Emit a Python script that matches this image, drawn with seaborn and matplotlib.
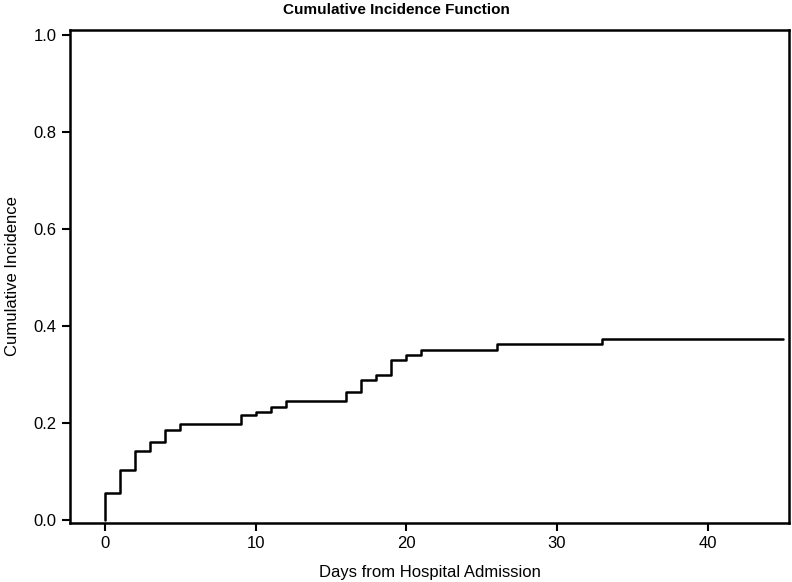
import matplotlib
matplotlib.use('Agg')
import matplotlib.pyplot as plt
import seaborn as sns
import pandas as pd

# event times (days) and cumulative incidence after each step
days = [0, 0, 1, 2, 3, 4, 5, 9, 10, 11, 12, 16, 17, 18, 19, 20, 21, 26, 33, 45]
cif = [0.0, 0.056, 0.104, 0.142, 0.160, 0.186, 0.198, 0.216, 0.223, 0.234,
       0.245, 0.263, 0.289, 0.300, 0.329, 0.340, 0.350, 0.362, 0.374, 0.374]

x_ticks = [0, 10, 20, 30, 40]
y_ticks = [0.0, 0.2, 0.4, 0.6, 0.8, 1.0]

sns.set_style("ticks")
plt.rcParams['font.family'] = ['Liberation Sans', 'DejaVu Sans']
plt.rcParams['text.color'] = 'black'
plt.rcParams['axes.labelcolor'] = 'black'

df = pd.DataFrame({"days": days, "cif": cif})

fig = plt.figure(figsize=(7.92, 5.82), dpi=100)
ax = fig.add_axes([70 / 792, 59 / 582, 719 / 792, 493 / 582])

sns.lineplot(data=df, x="days", y="cif", drawstyle="steps-post",
             color="black", linewidth=1.8, ax=ax, estimator=None)

ax.set_xlim(-2.32, 45.4)
ax.set_ylim(-0.006, 1.01)
ax.set_xticks(x_ticks)
ax.set_yticks(y_ticks)
ax.set_yticklabels(["%.1f" % v for v in y_ticks])
ax.tick_params(direction="out", length=6, width=1.5, labelsize=12, colors="black")
for s in ax.spines.values():
    s.set_linewidth(1.8)
    s.set_color("black")
    s.set_visible(True)

ax.set_xlabel("Days from Hospital Admission", fontsize=12, labelpad=10)
ax.set_ylabel("Cumulative Incidence", fontsize=12, labelpad=10)
fig.text(0.5, 1 - 10 / 582, "Cumulative Incidence Function", ha="center", va="center",
         fontsize=11, fontweight="bold")

plt.savefig("out.png", dpi=100)
plt.close()
